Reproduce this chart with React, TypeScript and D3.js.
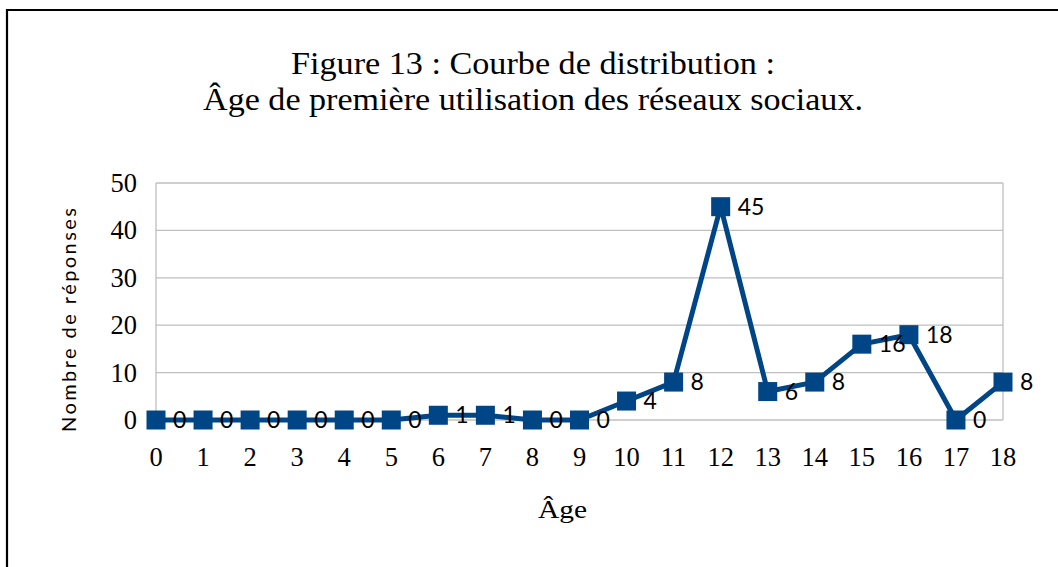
import * as d3 from "d3";
import React from "react";

// âges (axe horizontal) et nombre de réponses
const ages = ["0", "1", "2", "3", "4", "5", "6", "7", "8", "9", "10", "11", "12", "13", "14", "15", "16", "17", "18"];
const reponses = [0, 0, 0, 0, 0, 0, 1, 1, 0, 0, 4, 8, 45, 6, 8, 16, 18, 0, 8];
const yTicks = [0, 10, 20, 30, 40, 50];

const titleLines = [
  "Figure 13 : Courbe de distribution :",
  "Âge de première utilisation des réseaux sociaux.",
];
const xTitle = "Âge";
const yTitle = "Nombre de réponses";

const W = 1058;
const H = 567;
const plot = { left: 156, right: 1003, top: 183, bottom: 420 };
const blue = "#004586";
const grid = "#bfbfbf";
const serif = "'Liberation Serif', 'Times New Roman', serif";
const sans = "Lato, 'Open Sans', sans-serif";

export default function App() {
  const x = d3.scalePoint<string>().domain(ages).range([plot.left, plot.right]).padding(0);
  const y = d3.scaleLinear().domain([0, 50]).range([plot.bottom, plot.top]);

  const line = d3
    .line<number>()
    .x((_, i) => x(ages[i]) as number)
    .y((d) => y(d));

  const mk = 19;
  const titleWidths = [484, 660];

  return (
    <svg
      width={W}
      height={H}
      style={{ position: "absolute", left: 0, top: 0, background: "#fff" }}
    >
      <rect x={0} y={0} width={W} height={H} fill="#fff" />
      {/* cadre */}
      <path d={`M7,${H + 5} V10 H${W + 5}`} fill="none" stroke="#000" strokeWidth={2.2} />

      {/* titre */}
      {titleLines.map((t, i) => (
        <text
          key={i}
          x={533 - titleWidths[i] / 2}
          y={74 + i * 36}
          textLength={titleWidths[i]}
          lengthAdjust="spacingAndGlyphs"
          fontFamily={serif}
          fontSize={31}
          fill="#000"
        >
          {t}
        </text>
      ))}

      {/* grille */}
      {yTicks.map((t) => (
        <g key={t}>
          <line x1={plot.left} x2={plot.right} y1={y(t)} y2={y(t)} stroke={grid} strokeWidth={1.3} />
          <text
            x={137}
            y={y(t) + 9}
            textAnchor="end"
            fontFamily={serif}
            fontSize={26.5}
            fill="#000"
          >
            {t}
          </text>
        </g>
      ))}
      <line x1={plot.left} x2={plot.left} y1={plot.top} y2={plot.bottom} stroke={grid} strokeWidth={1.3} />
      <line x1={plot.right} x2={plot.right} y1={plot.top} y2={plot.bottom} stroke={grid} strokeWidth={1.3} />

      {/* étiquettes x */}
      {ages.map((a) => (
        <text
          key={a}
          x={x(a)}
          y={466}
          textAnchor="middle"
          fontFamily={serif}
          fontSize={26.5}
          fill="#000"
        >
          {a}
        </text>
      ))}

      {/* titres des axes */}
      <text
        x={538}
        y={518}
        textLength={49}
        lengthAdjust="spacingAndGlyphs"
        fontFamily={serif}
        fontSize={25}
        fill="#000"
      >
        {xTitle}
      </text>
      <text
        transform="translate(76, 432) rotate(-90)"
        textLength={224}
        lengthAdjust="spacing"
        fontFamily={sans}
        fontSize={20}
        fill="#000"
      >
        {yTitle}
      </text>

      {/* courbe */}
      <path d={line(reponses) || ""} fill="none" stroke={blue} strokeWidth={5} strokeLinejoin="round" />
      {reponses.map((v, i) => (
        <rect
          key={i}
          x={(x(ages[i]) as number) - mk / 2}
          y={y(v) - mk / 2}
          width={mk}
          height={mk}
          fill={blue}
        />
      ))}

      {/* étiquettes de données */}
      {reponses.map((v, i) => (
        <text
          key={i}
          x={(x(ages[i]) as number) + 17}
          y={y(v) + 8}
          fontFamily={sans}
          fontSize={23}
          fill="#000"
        >
          {v}
        </text>
      ))}
    </svg>
  );
}
